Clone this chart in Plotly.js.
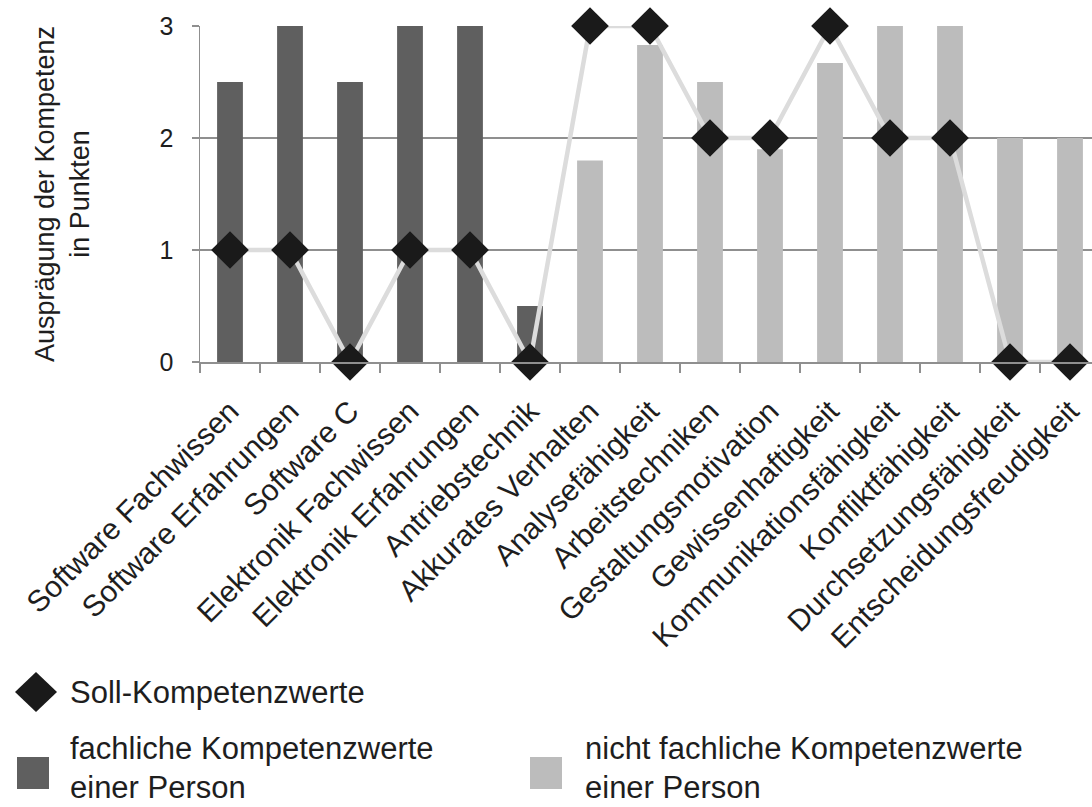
<!DOCTYPE html>
<html>
<head>
<meta charset="utf-8">
<script src="https://cdn.plot.ly/plotly-3.0.1.min.js"></script>
<style>
  html, body { margin: 0; padding: 0; background: #ffffff; }
  #chart { width: 1092px; height: 807px; }
</style>
</head>
<body>
<div id="chart"></div>
<script>
// Kompetenzen (x-axis categories)
const categories = [
  "Software Fachwissen",
  "Software Erfahrungen",
  "Software C",
  "Elektronik Fachwissen",
  "Elektronik Erfahrungen",
  "Antriebstechnik",
  "Akkurates Verhalten",
  "Analysefähigkeit",
  "Arbeitstechniken",
  "Gestaltungsmotivation",
  "Gewissenhaftigkeit",
  "Kommunikationsfähigkeit",
  "Konfliktfähigkeit",
  "Durchsetzungsfähigkeit",
  "Entscheidungsfreudigkeit"
];

// Ist-Werte einer Person: fachliche Kompetenzen (first six) ...
const fachlicheWerte = [2.5, 3, 2.5, 3, 3, 0.5, null, null, null, null, null, null, null, null, null];
// ... and nicht fachliche Kompetenzen (remaining nine)
const nichtFachlicheWerte = [null, null, null, null, null, null, 1.8, 2.83, 2.5, 1.9, 2.67, 3, 3, 2, 2];
// Soll-Kompetenzwerte
const sollWerte = [1, 1, 0, 1, 1, 0, 3, 3, 2, 2, 3, 2, 2, 0, 0];

const yTicks = [0, 1, 2, 3];

// Legend texts (each line is placed separately)
const legendSoll = ["Soll-Kompetenzwerte"];
const legendFach = ["fachliche Kompetenzwerte", "einer Person"];
const legendNichtFach = ["nicht fachliche Kompetenzwerte", "einer Person"];

const FONT = "Liberation Sans, Arial, Helvetica, sans-serif";
const TEXT = "#1e1e1e";
const AXIS = "#8f8f8f";
const DARK = "#5f5f5f";
const LIGHT = "#bcbcbc";

// Plot area geometry (pixels) used to place the hand-made legend
const W = 1092, H = 807;
const M = { l: 200, r: 0, t: 26, b: 445 };
const plotW = W - M.l - M.r;
const plotH = H - M.t - M.b;
const px = x => (x - M.l) / plotW;
const py = y => (H - M.b - y) / plotH;

const traces = [
  {
    type: "bar",
    x: categories,
    y: fachlicheWerte,
    name: legendFach.join(" "),
    marker: { color: DARK, line: { width: 0 } },
    width: 0.43,
    showlegend: false,
    hoverinfo: "x+y"
  },
  {
    type: "bar",
    x: categories,
    y: nichtFachlicheWerte,
    name: legendNichtFach.join(" "),
    marker: { color: LIGHT, line: { width: 0 } },
    width: 0.43,
    showlegend: false,
    hoverinfo: "x+y"
  },
  {
    type: "scatter",
    mode: "lines+markers",
    x: categories,
    y: sollWerte,
    name: legendSoll[0],
    line: { color: "#dcdcdc", width: 4.5 },
    marker: { symbol: "diamond", size: 29, color: "#1a1a1a", line: { width: 0 } },
    cliponaxis: false,
    showlegend: false,
    hoverinfo: "x+y"
  }
];

// Legend drawn as shapes + annotations so the symbols can be large
function diamondPath(cx, cy, rx, ry) {
  return "M" + px(cx - rx) + "," + py(cy) +
         " L" + px(cx) + "," + py(cy - ry) +
         " L" + px(cx + rx) + "," + py(cy) +
         " L" + px(cx) + "," + py(cy + ry) + " Z";
}
function rect(x0, y0, x1, y1, color) {
  return {
    type: "rect", xref: "paper", yref: "paper",
    x0: px(x0), x1: px(x1), y0: py(y1), y1: py(y0),
    fillcolor: color, line: { width: 0 }
  };
}

const legendShapes = [
  { type: "path", xref: "paper", yref: "paper", path: diamondPath(36, 692, 21, 20),
    fillcolor: "#1a1a1a", line: { width: 0 } },
  rect(17, 757, 49, 789, DARK),
  rect(530, 757, 562, 789, LIGHT)
];

const LEGEND_SIZE = 31;
const LINE_GAP = 39;
function legendLines(lines, x, yFirst) {
  return lines.map((t, i) => ({
    xref: "paper", yref: "paper", x: px(x), y: py(yFirst + i * LINE_GAP),
    xanchor: "left", yanchor: "middle", align: "left",
    text: t, showarrow: false,
    font: { family: FONT, size: LEGEND_SIZE, color: TEXT }
  }));
}

const layout = {
  width: W, height: H,
  margin: M,
  paper_bgcolor: "#ffffff",
  plot_bgcolor: "#ffffff",
  barmode: "overlay",
  showlegend: false,
  font: { family: FONT, color: TEXT },
  xaxis: {
    type: "category",
    range: [-0.5, -0.5 + plotW / 60],
    tickangle: -45,
    tickson: "boundaries",
    ticks: "outside",
    ticklen: 9,
    tickwidth: 1.5,
    tickcolor: AXIS,
    ticklabelstandoff: 18,
    showline: true,
    linecolor: AXIS,
    linewidth: 1.5,
    showgrid: false,
    zeroline: false,
    automargin: false,
    tickfont: { family: FONT, size: 30, color: TEXT }
  },
  yaxis: {
    range: [0, 3],
    tickvals: yTicks,
    ticktext: yTicks.map(String),
    ticks: "outside",
    ticklen: 7,
    tickwidth: 1.5,
    tickcolor: AXIS,
    ticklabelstandoff: 13,
    showline: true,
    linecolor: AXIS,
    linewidth: 1.5,
    showgrid: true,
    gridcolor: AXIS,
    gridwidth: 1.5,
    zeroline: false,
    automargin: false,
    tickfont: { family: FONT, size: 25, color: TEXT },
    title: {
      text: "Ausprägung der Kompetenz<br>in Punkten",
      font: { family: FONT, size: 27, color: TEXT },
      standoff: 62
    }
  },
  shapes: legendShapes,
  annotations: [].concat(
    legendLines(legendSoll, 68, 692),
    legendLines(legendFach, 68, 748),
    legendLines(legendNichtFach, 583, 748)
  )
};

Plotly.newPlot("chart", traces, layout, { displayModeBar: false, staticPlot: true });
</script>
</body>
</html>
